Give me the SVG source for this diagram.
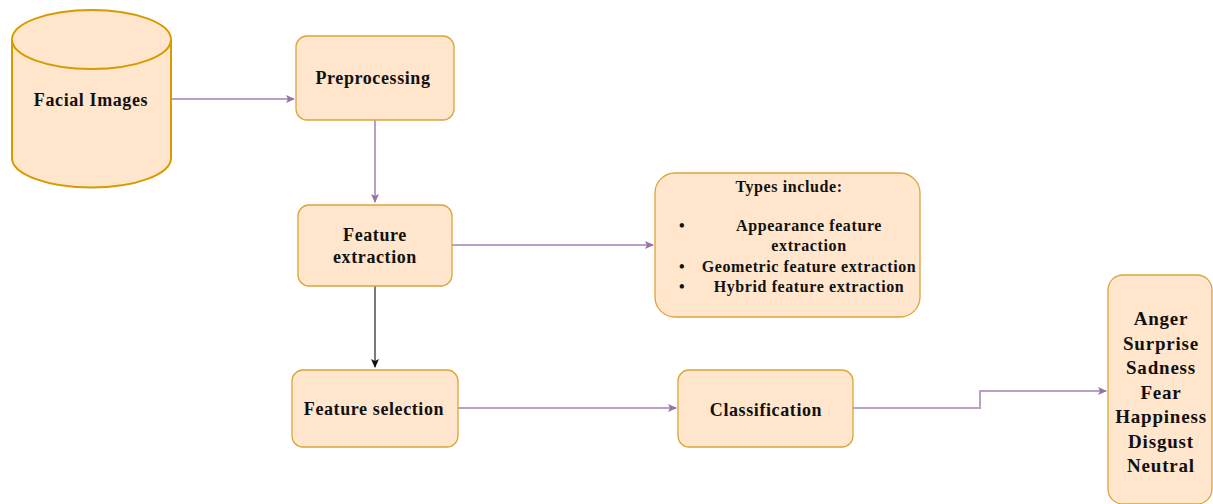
<svg xmlns="http://www.w3.org/2000/svg" width="1213" height="504" viewBox="0 0 1213 504">
<defs>
<style>
.n{fill:#ffe6cc;stroke:#dca53a;stroke-width:1.3}
.cyl{fill:#ffe6cc;stroke:#d79b00;stroke-width:2}
.t{font-family:"Liberation Serif","Times New Roman",serif;font-weight:bold;fill:#111;text-anchor:middle}
.m{font-size:18px;letter-spacing:0.6px}
.s{font-size:16px;letter-spacing:0.6px}
.o{font-size:19px;letter-spacing:0.8px}
.c{fill:none;stroke:#b9a0c8;stroke-width:2}
.k{fill:none;stroke:#333;stroke-width:1.3}
</style>
<marker id="ap" markerWidth="10" markerHeight="10" refX="8" refY="4" orient="auto" markerUnits="userSpaceOnUse">
<path d="M0,0 L9,4 L0,8 L2,4 Z" fill="#9673a6"/>
</marker>
<marker id="ak" markerWidth="10" markerHeight="10" refX="8" refY="4" orient="auto" markerUnits="userSpaceOnUse">
<path d="M0,0 L9,4 L0,8 L2,4 Z" fill="#111"/>
</marker>
</defs>
<rect width="1213" height="504" fill="#fff"/>
<g id="connectors">
<path class="c" d="M171,99 H294" marker-end="url(#ap)"/>
<path class="c" d="M375,120 V202" marker-end="url(#ap)"/>
<path class="c" d="M452,245 H653" marker-end="url(#ap)"/>
<path class="k" d="M375,286 V367" marker-end="url(#ak)"/>
<path class="c" d="M458,408 H676" marker-end="url(#ap)"/>
<path class="c" d="M853,408 H980 V391 H1106" marker-end="url(#ap)"/>
</g>
<g id="facial-images">
<path class="cyl" d="M12,39.5 V158 A79.5,29.5 0 0 0 171,158 V39.5 A79.5,29.5 0 0 0 12,39.5 Z"/>
<path class="cyl" fill="none" d="M12,39.5 A79.5,29.5 0 0 0 171,39.5"/>
<text class="t m" x="91" y="106">Facial Images</text>
</g>
<g id="preprocessing">
<rect class="n" x="296" y="36" width="158" height="84" rx="11"/>
<text class="t m" x="373" y="84">Preprocessing</text>
</g>
<g id="feature-extraction">
<rect class="n" x="298" y="205" width="154" height="81" rx="11"/>
<text class="t m" x="375" y="241">Feature</text>
<text class="t m" x="375" y="263">extraction</text>
</g>
<g id="types">
<rect class="n" x="655" y="173" width="265" height="144" rx="20"/>
<text class="t s" x="789" y="192">Types include:</text>
<text class="t s" x="682" y="231">•</text>
<text class="t s" x="809" y="231">Appearance feature</text>
<text class="t s" x="809" y="251">extraction</text>
<text class="t s" x="682" y="272">•</text>
<text class="t s" x="809" y="272">Geometric feature extraction</text>
<text class="t s" x="682" y="292">•</text>
<text class="t s" x="809" y="292">Hybrid feature extraction</text>
</g>
<g id="feature-selection">
<rect class="n" x="292" y="370" width="166" height="77" rx="11"/>
<text class="t m" x="374" y="415">Feature selection</text>
</g>
<g id="classification">
<rect class="n" x="678" y="370" width="175" height="77" rx="11"/>
<text class="t m" x="766" y="416">Classification</text>
</g>
<g id="emotions">
<rect class="n" x="1108" y="275" width="104" height="229" rx="15"/>
<text class="t o" x="1161" y="325">Anger</text>
<text class="t o" x="1161" y="350">Surprise</text>
<text class="t o" x="1161" y="374">Sadness</text>
<text class="t o" x="1161" y="399">Fear</text>
<text class="t o" x="1161" y="423">Happiness</text>
<text class="t o" x="1161" y="448">Disgust</text>
<text class="t o" x="1161" y="472">Neutral</text>
</g>
</svg>
